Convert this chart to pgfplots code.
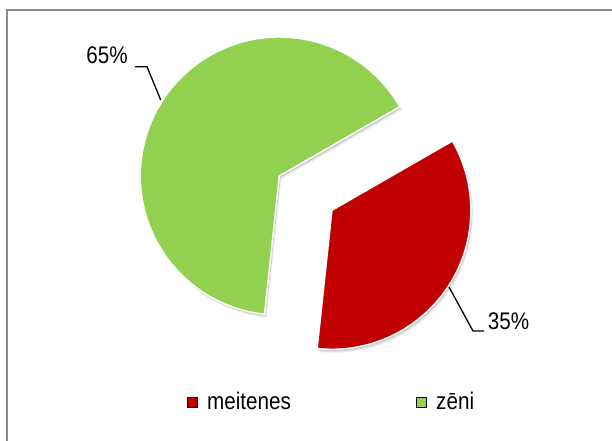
\documentclass[border=0pt]{standalone}
\usepackage{pgfplots}
\pgfplotsset{compat=1.18}
\usepackage{pgfplotstable}
\usepackage{fontspec}
\setmainfont{Liberation Sans}[FakeStretch=0.86]
\definecolor{pieRed}{HTML}{C00000}
\definecolor{pieGreen}{HTML}{92D050}
\definecolor{frameGray}{HTML}{8C8C8C}

\pgfplotstableread{
label value
meitenes 35
zeni 65
}\piedata

\begin{document}%
\begin{tikzpicture}
\pgfplotstablegetelem{0}{value}\of\piedata \let\vA\pgfplotsretval
\pgfplotstablegetelem{1}{value}\of\piedata \let\vB\pgfplotsretval
\pgfmathsetmacro\aEnd{29.9}
\pgfmathsetmacro\aStart{\aEnd-3.6*\vA}
\pgfmathsetmacro\aMid{(\aStart+\aEnd)/2}
\pgfmathsetmacro\gEnd{\aEnd+3.6*\vB}
\pgfmathsetmacro\exX{279.3+62.8*cos(\aMid)}
\pgfmathsetmacro\exY{265+62.8*sin(\aMid)}
\begin{axis}[
  width=612bp, height=441bp, scale only axis,
  xmin=0, xmax=612, ymin=0, ymax=441,
  hide axis, clip=false,
  legend columns=2,
  legend style={at={(axis cs:186.7,39)}, anchor=west, draw=none, fill=none,
    inner sep=0pt, outer sep=0pt,
    font=\fontsize{24bp}{28bp}\selectfont,
    nodes={inner sep=0pt, anchor=west},
    /tikz/every odd column/.append style={column sep=10bp},
    /tikz/every even column/.append style={column sep=125bp}},
  legend image code/.code={\fill[#1] (0bp,-5bp) rectangle (10bp,5bp);},
]
% frame
\draw[frameGray, line width=2bp] (axis cs:6.7,-40) -- (axis cs:6.7,431.3) -- (axis cs:680,431.3);
% shadows
\fill[black, opacity=0.06] (axis cs:281.4,261.5) -- ++(\aEnd:139bp) arc[start angle=\aEnd, end angle=\gEnd, radius=139bp] -- cycle;
\fill[black, opacity=0.08] (axis cs:280.8,262.5) -- ++(\aEnd:139bp) arc[start angle=\aEnd, end angle=\gEnd, radius=139bp] -- cycle;
\fill[black, opacity=0.10] (axis cs:280.2,263.5) -- ++(\aEnd:139bp) arc[start angle=\aEnd, end angle=\gEnd, radius=139bp] -- cycle;
\fill[black, opacity=0.06] (axis cs:\exX+2.1,\exY-3.5) -- ++(\aStart:139bp) arc[start angle=\aStart, end angle=\aEnd, radius=139bp] -- cycle;
\fill[black, opacity=0.08] (axis cs:\exX+1.5,\exY-2.5) -- ++(\aStart:139bp) arc[start angle=\aStart, end angle=\aEnd, radius=139bp] -- cycle;
\fill[black, opacity=0.10] (axis cs:\exX+0.9,\exY-1.5) -- ++(\aStart:139bp) arc[start angle=\aStart, end angle=\aEnd, radius=139bp] -- cycle;
% slices
\fill[pieGreen, draw=white, line width=1.5bp, line join=miter] (axis cs:279.3,265) -- ++(\aEnd:139bp) arc[start angle=\aEnd, end angle=\gEnd, radius=139bp] -- cycle;
\fill[pieRed, draw=white, line width=1.5bp, line join=miter] (axis cs:\exX,\exY) -- ++(\aStart:139bp) arc[start angle=\aStart, end angle=\aEnd, radius=139bp] -- cycle;
% data labels
\draw[black, line width=1.3bp] (axis cs:135,374.3) -- (axis cs:147,374.3) -- (axis cs:160.7,341);
\node[inner sep=0pt, font=\fontsize{24bp}{28bp}\selectfont] at (axis cs:107,385.5) {\pgfmathprintnumber[assume math mode=true]{\vB}\%};
\draw[black, line width=1.3bp] (axis cs:449,154) -- (axis cs:473,110) -- (axis cs:484,110);
\node[inner sep=0pt, font=\fontsize{24bp}{28bp}\selectfont] at (axis cs:508.5,119.5) {\pgfmathprintnumber[assume math mode=true]{\vA}\%};
% legend
\addlegendimage{fill=pieRed}
\addlegendentry{meitenes}
\addlegendimage{fill=pieGreen}
\addlegendentry{zēni}
\end{axis}
\pgfresetboundingbox
\path[use as bounding box] (current axis.south west) rectangle (current axis.north east);
\end{tikzpicture}%
\end{document}
